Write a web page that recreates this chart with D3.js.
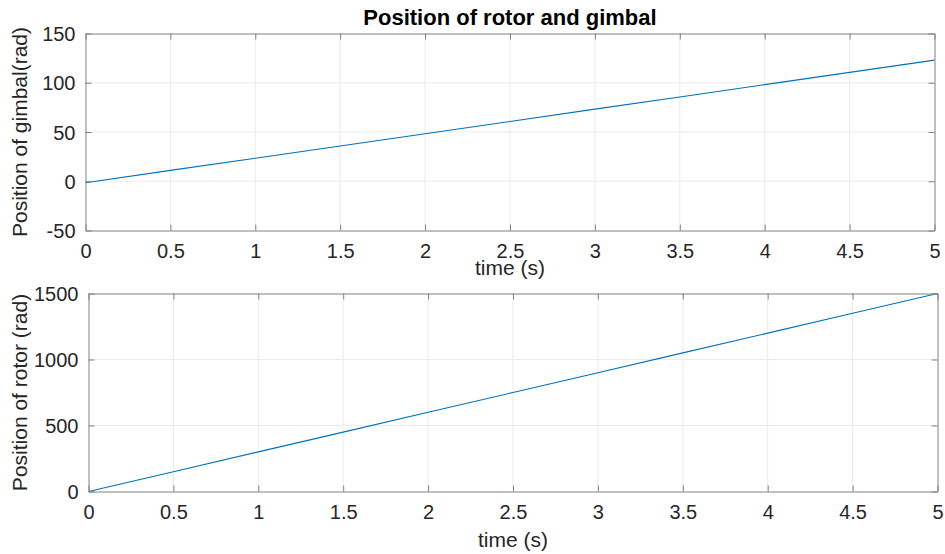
<!DOCTYPE html>
<html><head><meta charset="utf-8">
<script src="https://cdn.jsdelivr.net/npm/d3@7"></script>
<style>body{margin:0;background:#fff}svg{display:block}text{font-family:"Liberation Sans",Arial,sans-serif}</style>
</head><body>
<svg id="c" width="945" height="554"></svg>
<script>
const timeS = [0, 0.5, 1, 1.5, 2, 2.5, 3, 3.5, 4, 4.5, 5];
const gimbalPos = [-1.5, 11, 23.4, 35.8, 48.3, 60.7, 73.2, 85.6, 98.1, 110.5, 123];
const rotorPos = [0, 150, 300, 450, 600, 750, 900, 1050, 1200, 1350, 1500];
const xTicks = [0, 0.5, 1, 1.5, 2, 2.5, 3, 3.5, 4, 4.5, 5];
const gimbalTicks = [-50, 0, 50, 100, 150];
const rotorTicks = [0, 500, 1000, 1500];

const svg = d3.select("#c");
const boxColor = "#808080", gridColor = "#ebebeb", lineColor = "#0072BD";
const fmt = d => String(d);

function panel(o) {
  const x = d3.scaleLinear().domain([0, 5]).range([o.left, o.right]);
  const y = d3.scaleLinear().domain(o.ydom).range([o.bottom, o.top]);
  const g = svg.append("g");
  g.selectAll(".gx").data(xTicks.slice(1, -1)).join("line")
    .attr("x1", d => x(d)).attr("x2", d => x(d)).attr("y1", o.top).attr("y2", o.bottom)
    .attr("stroke", gridColor).attr("stroke-width", 1);
  g.selectAll(".gy").data(o.yticks.slice(1, -1)).join("line")
    .attr("y1", d => y(d)).attr("y2", d => y(d)).attr("x1", o.left).attr("x2", o.right)
    .attr("stroke", gridColor).attr("stroke-width", 1);
  g.append("path").datum(timeS.map((t, i) => [t, o.vals[i]]))
    .attr("d", d3.line().x(d => x(d[0])).y(d => y(d[1])))
    .attr("fill", "none").attr("stroke", lineColor).attr("stroke-width", 1.1);
  const tl = 6;
  const ax = g.append("g").attr("transform", `translate(0,${o.bottom})`)
    .call(d3.axisBottom(x).tickValues(xTicks).tickSizeInner(-tl).tickSizeOuter(0).tickPadding(13).tickFormat(fmt));
  const axT = g.append("g").attr("transform", `translate(0,${o.top})`)
    .call(d3.axisTop(x).tickValues(xTicks).tickSizeInner(-tl).tickSizeOuter(0).tickFormat(""));
  const ay = g.append("g").attr("transform", `translate(${o.left},0)`)
    .call(d3.axisLeft(y).tickValues(o.yticks).tickSizeInner(-tl).tickSizeOuter(0).tickPadding(10).tickFormat(fmt));
  const ayR = g.append("g").attr("transform", `translate(${o.right},0)`)
    .call(d3.axisRight(y).tickValues(o.yticks).tickSizeInner(-tl).tickSizeOuter(0).tickFormat(""));
  [ax, axT, ay, ayR].forEach(a => {
    a.attr("font-family", null).attr("font-size", null);
    a.select(".domain").attr("stroke", boxColor);
    a.selectAll(".tick line").attr("stroke", boxColor);
    a.selectAll("text").attr("fill", "#262626").style("font-size", "20px");
  });
  ay.selectAll("text").attr("dy", "0.36em");
  ax.selectAll("text").attr("dy", "0.72em");
  g.append("text").attr("x", (o.left + o.right) / 2).attr("y", o.xlabY)
    .attr("text-anchor", "middle").attr("fill", "#262626").style("font-size", "21px").text("time (s)");
  g.append("text").attr("transform", `translate(${o.ylabX},${(o.top + o.bottom) / 2}) rotate(-90)`)
    .attr("text-anchor", "middle").attr("fill", "#262626").style("font-size", "21px").text(o.ylab);
}

panel({left: 85.5, right: 934.5, top: 33.5, bottom: 230.5, ydom: [-50, 150], yticks: gimbalTicks,
  vals: gimbalPos, ylab: "Position of gimbal(rad)", ylabX: 27, xlabY: 275});
panel({left: 88.5, right: 937.5, top: 293.5, bottom: 491.5, ydom: [0, 1500], yticks: rotorTicks,
  vals: rotorPos, ylab: "Position of rotor (rad)", ylabX: 27, xlabY: 547});

svg.append("text").attr("x", 510).attr("y", 25).attr("text-anchor", "middle")
  .style("font-size", "22px").style("font-weight", "bold").attr("fill", "#000").text("Position of rotor and gimbal");
</script>
</body></html>
